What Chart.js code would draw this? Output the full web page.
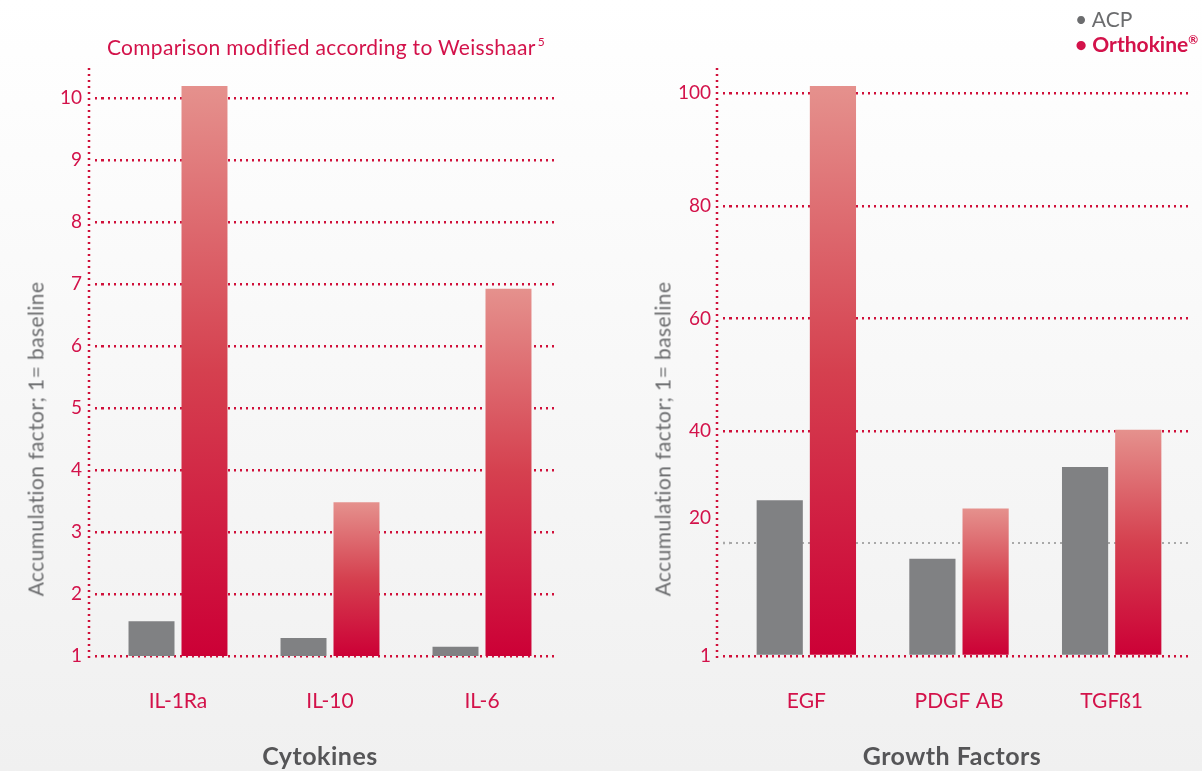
<!DOCTYPE html>
<html>
<head>
<meta charset="utf-8">
<script src="https://cdn.jsdelivr.net/npm/chart.js@4/dist/chart.umd.min.js"></script>
<style>
  html, body { margin:0; padding:0; }
  body { width:1202px; height:771px; overflow:hidden; position:relative;
         background: linear-gradient(to bottom, #ffffff 0%, #f0f0f0 100%);
         font-family: Lato, "Open Sans", sans-serif; }
  .cv { position:absolute; top:0; height:771px; }
  .txt { position:absolute; white-space:nowrap; }
  .ytitle { position:absolute; white-space:nowrap; color:#6b6c6e; font-size:21px; font-weight:400; letter-spacing:0.4px;
            transform: translate(-50%,-50%) rotate(-90deg); }
  .caption { left:326px; top:46px; transform:translate(-50%,-50%); color:#d3124a; font-size:21px; font-weight:400; letter-spacing:0.3px; }
  .caption sup { font-size:12px; vertical-align: 9px; margin-left:2px; }
  .bottom { top:755px; transform:translate(-50%,-50%); color:#555557; font-size:25px; font-weight:700; letter-spacing:0.5px; }
  .legend { left:1075px; font-size:21px; }
</style>
</head>
<body>
<div class="cv" style="left:0;width:600px;"><canvas id="c1"></canvas></div>
<div class="cv" style="left:600px;width:602px;"><canvas id="c2"></canvas></div>

<div class="txt caption">Comparison modified according to Weisshaar<sup>5</sup></div>
<div class="txt legend" style="top:6px;color:#6b6c6e;font-weight:400;">• ACP</div>
<div class="txt legend" style="top:31px;color:#d3124a;font-weight:700;">• Orthokine<sup style="font-size:12px;">®</sup></div>
<div class="ytitle" style="left:35px;top:439px;">Accumulation factor; 1= baseline</div>
<div class="ytitle" style="left:662px;top:439px;">Accumulation factor; 1= baseline</div>
<div class="txt bottom" style="left:320px;">Cytokines</div>
<div class="txt bottom" style="left:952px;">Growth Factors</div>

<script>
// ---- data ----
const cytokineLabels = ['IL-1Ra', 'IL-10', 'IL-6'];
const cytokineACP = [1.56, 1.29, 1.15];
const cytokineOrthokine = [10.19, 3.48, 6.92];
const cytokineTickValues = [1, 2, 3, 4, 5, 6, 7, 8, 9, 10];
const cytokineTickLabels = ['1', '2', '3', '4', '5', '6', '7', '8', '9', '10'];

const growthLabels = ['EGF', 'PDGF AB', 'TGFß1'];
const growthACP = [27.7, 17.3, 33.6];
const growthOrthokine = [101.3, 26.2, 40.2];
const growthTickValues = [0, 20, 24.6, 40, 60, 80, 100];
const growthTickLabels = ['1', '', '20', '40', '60', '80', '100'];
const growthGrayGridValue = 20;
const growthLabelOnlyValue = 24.6;

const seriesNames = ['ACP', 'Orthokine®'];

// ---- styles ----
const CRIMSON = '#d3124a';
const GRID_RED = '#d0103a';
const GRID_GRAY = '#a9a9a9';
const GRAY_BAR = '#808183';
const FONT = 'Lato, "Open Sans", sans-serif';

function redGradient(ctx) {
  const chart = ctx.chart;
  if (!chart.chartArea || ctx.type !== 'data') return '#d02046';
  const y = chart.scales.y;
  const top = y.getPixelForValue(ctx.raw);
  const bottom = chart.chartArea.bottom;
  const g = chart.ctx.createLinearGradient(0, top, 0, bottom);
  g.addColorStop(0, '#e5918d');
  g.addColorStop(0.5, '#d5404f');
  g.addColorStop(1, '#cc0036');
  return g;
}

const axisLinePlugin = {
  id: 'axisLine',
  beforeDatasetsDraw(chart) {
    const {ctx, chartArea} = chart;
    const x = chartArea.left - 13;
    ctx.save();
    ctx.strokeStyle = GRID_RED;
    ctx.lineWidth = 2.5;
    ctx.setLineDash([2, 4]);
    ctx.beginPath();
    ctx.moveTo(x, chartArea.top);
    ctx.lineTo(x, chartArea.bottom + 6);
    ctx.stroke();
    ctx.restore();
  }
};

function makeChart(id, labels, acp, ortho, yOpts, leftW, rightPad) {
  return new Chart(document.getElementById(id), {
    type: 'bar',
    data: {
      labels: labels,
      datasets: [
        { label: seriesNames[0], data: acp, backgroundColor: GRAY_BAR,
          barPercentage: 0.868, categoryPercentage: 0.697 },
        { label: seriesNames[1], data: ortho, backgroundColor: redGradient,
          barPercentage: 0.868, categoryPercentage: 0.697 }
      ]
    },
    options: {
      responsive: true,
      maintainAspectRatio: false,
      animation: false,
      layout: { padding: { top: 68, right: rightPad, left: 0, bottom: 0 } },
      plugins: { legend: { display: false }, tooltip: { enabled: false } },
      scales: {
        x: {
          grid: { display: false },
          border: { display: false },
          ticks: { color: CRIMSON, font: { family: FONT, size: 21, weight: 400 }, padding: 25 },
          afterFit: s => { s.height = 115; }
        },
        y: Object.assign({
          border: { display: false, dash: [2, 4] },
          afterFit: s => { s.width = leftW; }
        }, yOpts)
      }
    },
    plugins: [axisLinePlugin]
  });
}

makeChart('c1', cytokineLabels, cytokineACP, cytokineOrthokine, {
  min: 1, max: 10.48,
  afterBuildTicks: s => { s.ticks = cytokineTickValues.map(v => ({ value: v })); },
  grid: { color: GRID_RED, lineWidth: 2.5, tickLength: 7, tickColor: GRID_RED, tickWidth: 2.5, tickBorderDash: [2, 4] },
  ticks: {
    color: CRIMSON, font: { family: FONT, size: 19, weight: 400 }, padding: 13,
    callback: (v) => { const i = cytokineTickValues.indexOf(v); return i >= 0 ? cytokineTickLabels[i] : ''; }
  }
}, 102, 42);

function growthGridColor(c) {
  if (!c.tick) return GRID_RED;
  if (c.tick.value === growthGrayGridValue) return GRID_GRAY;
  if (c.tick.value === growthLabelOnlyValue) return 'rgba(0,0,0,0)';
  return GRID_RED;
}

makeChart('c2', growthLabels, growthACP, growthOrthokine, {
  min: 0, max: 104.5,
  afterBuildTicks: s => { s.ticks = growthTickValues.map(v => ({ value: v })); },
  grid: {
    color: growthGridColor,
    lineWidth: c => c.tick && c.tick.value === growthGrayGridValue ? 2 : 2.5,
    tickLength: 7,
    tickColor: growthGridColor,
    tickWidth: 2.5, tickBorderDash: [2, 4]
  },
  ticks: {
    color: CRIMSON, font: { family: FONT, size: 19, weight: 400 }, padding: 12,
    callback: (v) => { const i = growthTickValues.indexOf(v); return i >= 0 ? growthTickLabels[i] : ''; }
  }
}, 130, 14);
</script>
</body>
</html>
